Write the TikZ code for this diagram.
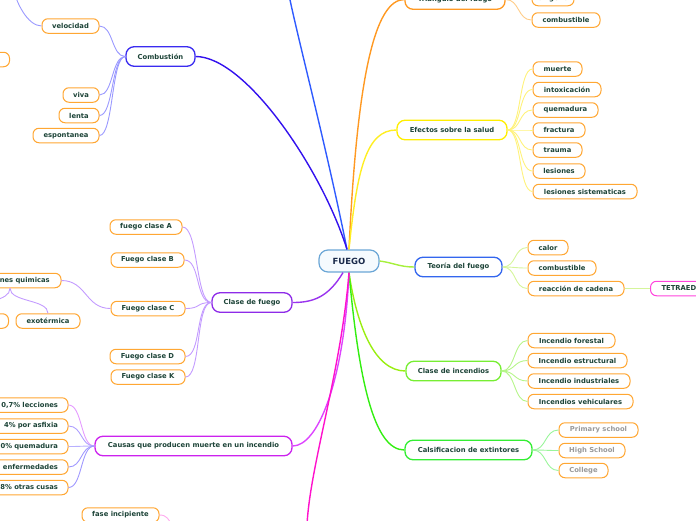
\documentclass[tikz,border=0pt]{standalone}
\usepackage{fontspec}
\setmainfont{DejaVu Sans}
\definecolor{txt}{HTML}{1D4438}
\definecolor{leafB}{HTML}{FFA733}
\definecolor{grayT}{HTML}{9A9A9A}
\definecolor{fuegoB}{HTML}{6BA6D6}
\definecolor{fuegoF}{HTML}{F5FAFE}
\definecolor{fuegoT}{HTML}{1A2A4A}
\definecolor{combB}{HTML}{3A2BF0}
\definecolor{claseB}{HTML}{8E2BE8}
\definecolor{causasB}{HTML}{CC22EE}
\definecolor{triB}{HTML}{FF9922}
\definecolor{efeB}{HTML}{FFEE00}
\definecolor{teoB}{HTML}{3366EE}
\definecolor{tetraB}{HTML}{FF44DD}
\definecolor{incB}{HTML}{77EE33}
\definecolor{calB}{HTML}{33EE33}
\definecolor{mTop}{HTML}{2F5BFF}
\definecolor{mComb}{HTML}{3311EE}
\definecolor{mTri}{HTML}{FF9922}
\definecolor{mEfe}{HTML}{FFEE22}
\definecolor{mTeo}{HTML}{A6F03C}
\definecolor{mInc}{HTML}{99EE11}
\definecolor{mCal}{HTML}{33EE11}
\definecolor{mClase}{HTML}{9933EE}
\definecolor{mCausas}{HTML}{DD44FF}
\definecolor{mBot}{HTML}{FF11CC}
\definecolor{kComb}{HTML}{9A99FF}
\definecolor{kClase}{HTML}{C39BFF}
\definecolor{kC1}{HTML}{E59BFF}
\definecolor{kC2}{HTML}{AFA0FF}
\definecolor{kC3}{HTML}{B8B0FF}
\definecolor{kC4}{HTML}{A099FF}
\definecolor{kFase}{HTML}{FFAAEE}
\definecolor{kTri}{HTML}{FFCC88}
\definecolor{kEfe}{HTML}{FFF27A}
\definecolor{kTeo}{HTML}{D5F59A}
\definecolor{kInc}{HTML}{B6F58A}
\definecolor{kCal}{HTML}{99F59A}
\tikzset{
  base/.style={rounded corners=6pt, fill=white, text=txt, font=\fontsize{6.8}{8}\selectfont\bfseries, inner xsep=0pt, inner ysep=0pt},
  leaf/.style={base, draw=leafB, line width=1pt, minimum height=14.5pt},
  branch/.style={base, line width=1.3pt, minimum height=19.5pt, rounded corners=8pt},
  mainc/.style={line width=1.4pt},
  cc/.style={line width=0.9pt},
}
\begin{document}
\begin{tikzpicture}[x=1pt,y=-1pt]
\useasboundingbox (0,0) rectangle (696,520);
\clip (0,0) rectangle (696,520);
% ---------- free ends ----------
\coordinate (topend) at (289,-5);
\coordinate (botend) at (307,525);
\coordinate (velup) at (13,-14);
\coordinate (faseend) at (172,524);
% ---------- nodes ----------
\node[base, draw=fuegoB, fill=fuegoF, line width=1.2pt, rounded corners=9pt, minimum width=60pt, minimum height=22pt, text=fuegoT, font=\fontsize{8.5}{10}\selectfont\bfseries] (fuego) at (349,261) {FUEGO};
% left
\node[branch, draw=combB, minimum width=69pt] (comb) at (160.5,56.5) {Combustión};
\node[leaf, minimum width=57pt] (vel) at (70.5,26) {velocidad};
\node[leaf, minimum width=60pt, anchor=east] (part1) at (10,59.5) {};
\node[leaf, minimum width=36pt] (viva) at (81,95) {viva};
\node[leaf, minimum width=40pt] (lenta) at (79,115.5) {lenta};
\node[leaf, minimum width=66pt] (esp) at (66,135.5) {espontanea};
\node[branch, draw=claseB, minimum width=80pt] (clase) at (252,302.5) {Clase de fuego};
\node[leaf, minimum width=72pt] (fA) at (146,227) {fuego clase A};
\node[leaf, minimum width=73pt] (fB) at (147.5,260) {Fuego clase B};
\node[leaf, minimum width=74pt] (fC) at (148,308.5) {Fuego clase C};
\node[leaf, minimum width=75pt] (fD) at (147.5,356.5) {Fuego clase D};
\node[leaf, minimum width=74pt] (fK) at (148,377) {Fuego clase K};
\node[leaf, minimum width=102pt] (rq) at (10,280.5) {Reacciones quimicas};
\node[leaf, minimum width=60pt, anchor=east] (endo) at (9,321) {};
\node[leaf, minimum width=64pt] (exo) at (48,321) {exotérmica};
\node[branch, draw=causasB, minimum width=197pt] (causas) at (193.5,446) {Causas que producen muerte en un incendio};
\node[leaf, anchor=east, text width=80pt, align=right, inner xsep=10pt] (c1) at (68.5,405) {0,7\% lecciones};
\node[leaf, anchor=east, text width=80pt, align=right, inner xsep=10pt] (c2) at (68.5,426) {4\% por asfixia};
\node[leaf, anchor=east, text width=80pt, align=right, inner xsep=10pt] (c3) at (68.5,446.5) {0\% quemadura};
\node[leaf, anchor=east, text width=80pt, align=right, inner xsep=10pt] (c4) at (68.5,467) {enfermedades};
\node[leaf, anchor=east, text width=80pt, align=right, inner xsep=10pt] (c5) at (68.5,487.5) {8\% otras cusas};
\node[leaf, minimum width=77pt] (fase) at (120.5,515) {fase incipiente};
% right
\node[branch, draw=triB, minimum width=100pt] (tri) at (455,-0.5) {Triángulo del fuego};
\node[leaf, minimum width=42pt] (oxi) at (553,-1.5) {oxígeno};
\node[leaf, minimum width=68pt] (comb2) at (566,20) {combustible};
\node[branch, draw=efeB, minimum width=110pt] (efe) at (452,130) {Efectos sobre la salud};
\node[leaf, minimum width=49pt] (muerte) at (557.5,69) {muerte};
\node[leaf, minimum width=68pt] (intox) at (567,89.5) {intoxicación};
\node[leaf, minimum width=65pt] (quem) at (565.5,110) {quemadura};
\node[leaf, minimum width=52pt] (frac) at (559,130) {fractura};
\node[leaf, minimum width=49pt] (trau) at (557.5,150) {trauma};
\node[leaf, minimum width=52pt] (les) at (559,171) {lesiones};
\node[leaf, minimum width=104pt] (lesS) at (585,191.5) {lesiones sistematicas};
\node[branch, draw=teoB, minimum width=87pt] (teo) at (458.5,267) {Teoría del fuego};
\node[leaf, minimum width=40pt] (calor) at (548,247.5) {calor};
\node[leaf, minimum width=68pt] (comb3) at (562,268) {combustible};
\node[leaf, minimum width=96pt] (reac) at (576,288.5) {reacción de cadena};
\node[leaf, draw=tetraB, anchor=west, text width=56pt, align=left, inner xsep=11pt] (tetra) at (650,288.5) {TETRAEDRO};
\node[branch, draw=incB, minimum width=95pt] (inc) at (453.5,371) {Clase de incendios};
\node[leaf, minimum width=87pt] (if) at (571.5,340.5) {Incendio forestal};
\node[leaf, minimum width=99pt] (ie) at (577.5,360.5) {Incendio estructural};
\node[leaf, minimum width=102pt] (ii) at (579,381) {Incendio industriales};
\node[leaf, minimum width=105pt] (iv) at (580.5,401.5) {Incendios vehiculares};
\node[branch, draw=calB, minimum width=127pt] (cal) at (468.5,450) {Calsificacion de extintores};
\node[leaf, minimum width=79pt, text=grayT] (ps) at (598.5,430) {Primary school};
\node[leaf, minimum width=66pt, text=grayT] (hs) at (592,450.5) {High School};
\node[leaf, minimum width=49pt, text=grayT] (col) at (583.5,470.5) {College};
% ---------- main connectors ----------
\coordinate (fs1) at ([xshift=-2pt]fuego.north);
\coordinate (fs2) at ([xshift=-6pt]fuego.south);
\draw[mainc, draw=mTop] (fs1) .. controls +(-20,-100) and +(8,40) .. (topend);
\draw[mainc, draw=mComb] (fs1) .. controls +(-25,-80) and +(50,0) .. (comb.east);
\draw[mainc, draw=mTri] (fuego.north) .. controls +(8,-170) and +(-30,0) .. (tri.west);
\draw[mainc, draw=mEfe] (fuego.north) .. controls +(8,-80) and +(-30,0) .. (efe.west);
\draw[mainc, draw=mTeo] (fuego.east) .. controls +(15,2) and +(-15,0) .. (teo.west);
\draw[mainc, draw=mInc] (fuego.south) .. controls +(8,55) and +(-30,0) .. (inc.west);
\draw[mainc, draw=mCal] (fuego.south) .. controls +(10,110) and +(-30,0) .. (cal.west);
\draw[mainc, draw=mClase] (fs2) .. controls +(-15,25) and +(20,0) .. (clase.east);
\draw[mainc, draw=mCausas] (fuego.south) .. controls +(-5,110) and +(25,0) .. (causas.east);
\draw[mainc, draw=mBot] (fuego.south) .. controls +(-8,100) and +(3,-60) .. (botend);
% ---------- child connectors ----------
\begin{scope}[cc, draw=kComb]
\draw (comb.west) .. controls +(-14,0) and +(14,0) .. (vel.east);
\draw (comb.west) .. controls +(-14,0) and +(14,0) .. (viva.east);
\draw (comb.west) .. controls +(-14,0) and +(14,0) .. (lenta.east);
\draw (comb.west) .. controls +(-14,0) and +(14,0) .. (esp.east);
\draw (vel.west) .. controls +(-14,0) and +(2,15) .. (velup);
\end{scope}
\begin{scope}[cc, draw=kClase]
\draw (clase.west) .. controls +(-16,0) and +(16,0) .. (fA.east);
\draw (clase.west) .. controls +(-16,0) and +(16,0) .. (fB.east);
\draw (clase.west) .. controls +(-16,0) and +(16,0) .. (fC.east);
\draw (clase.west) .. controls +(-16,0) and +(16,0) .. (fD.east);
\draw (clase.west) .. controls +(-16,0) and +(16,0) .. (fK.east);
\draw (rq.east) .. controls +(25,0) and +(-25,0) .. (fC.west);
\draw (rq.south) .. controls +(0,14) and +(0,-14) .. (exo.north);
\draw (rq.south) .. controls +(0,14) and +(0,-14) .. (endo.north);
\end{scope}
\draw[cc, draw=kC1] (causas.west) .. controls +(-14,0) and +(14,0) .. (c1.east);
\draw[cc, draw=kC2] (causas.west) .. controls +(-14,0) and +(14,0) .. (c2.east);
\draw[cc, draw=kC3] (causas.west) .. controls +(-14,0) and +(14,0) .. (c3.east);
\draw[cc, draw=kC4] (causas.west) .. controls +(-14,0) and +(14,0) .. (c4.east);
\draw[cc, draw=kC4] (causas.west) .. controls +(-14,0) and +(14,0) .. (c5.east);
\draw[cc, draw=kFase] (fase.east) .. controls +(8,0) and +(-4,-4) .. (faseend);
\begin{scope}[cc, draw=kTri]
\draw (tri.east) .. controls +(14,0) and +(-14,0) .. (oxi.west);
\draw (tri.east) .. controls +(14,0) and +(-14,0) .. (comb2.west);
\end{scope}
\begin{scope}[cc, draw=kEfe]
\foreach \n in {muerte,intox,quem,frac,trau,les,lesS}
  \draw (efe.east) .. controls +(14,0) and +(-14,0) .. (\n.west);
\end{scope}
\begin{scope}[cc, draw=kTeo]
\foreach \n in {calor,comb3,reac}
  \draw (teo.east) .. controls +(14,0) and +(-14,0) .. (\n.west);
\draw (reac.east) -- (tetra.west);
\end{scope}
\begin{scope}[cc, draw=kInc]
\foreach \n in {if,ie,ii,iv}
  \draw (inc.east) .. controls +(14,0) and +(-14,0) .. (\n.west);
\end{scope}
\begin{scope}[cc, draw=kCal]
\foreach \n in {ps,hs,col}
  \draw (cal.east) .. controls +(14,0) and +(-14,0) .. (\n.west);
\end{scope}
\end{tikzpicture}
\end{document}
